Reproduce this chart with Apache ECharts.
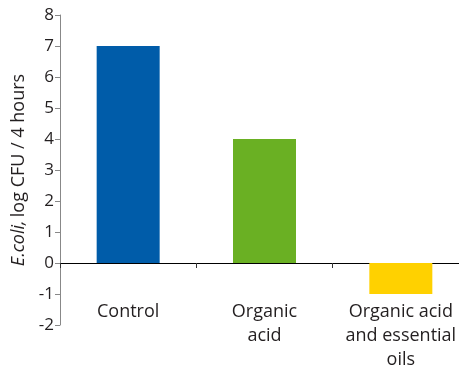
<!DOCTYPE html>
<html>
<head>
<meta charset="utf-8">
<script src="https://cdn.jsdelivr.net/npm/echarts@6/dist/echarts.min.js"></script>
<style>
  html, body { margin: 0; padding: 0; background: #fff; }
  #chart { width: 459px; height: 369px; }
</style>
</head>
<body>
<div id="chart"></div>
<script>
// Treatment groups and E. coli counts (log CFU / 4 hours)
const categories = ['Control', 'Organic\nacid', 'Organic acid\nand essential\noils'];
const values = [7, 4, -1];
const barColors = ['#005ca9', '#6ab023', '#ffd100'];
const yTicks = { min: -2, max: 8, interval: 1 };

const chart = echarts.init(document.getElementById('chart'), null, { renderer: 'canvas' });
const textColor = '#231f20';
const font = '"Open Sans", "Noto Sans", sans-serif';

chart.setOption({
  animation: false,
  grid: { left: 60, top: 15, bottom: 44, right: -10, containLabel: false, outerBoundsMode: 'none' },
  xAxis: {
    type: 'category',
    data: categories,
    axisLine: { onZero: true, lineStyle: { color: '#000', width: 1 } },
    axisTick: { show: true, length: 5, lineStyle: { color: '#333' } },
    axisLabel: {
      margin: -25,
      color: textColor,
      fontFamily: font,
      fontSize: 18,
      lineHeight: 24,
      interval: 0
    }
  },
  yAxis: {
    type: 'value',
    min: yTicks.min,
    max: yTicks.max,
    interval: yTicks.interval,
    splitLine: { show: false },
    axisLine: { show: true, lineStyle: { color: '#888', width: 1 } },
    axisTick: { show: true, length: 5, lineStyle: { color: '#888' } },
    axisLabel: { color: textColor, fontFamily: font, fontSize: 17, margin: 6 },
    name: '{i|E.coli,} {n|log CFU / 4 hours}',
    nameLocation: 'middle',
    nameRotate: 90,
    nameGap: 27,
    nameTextStyle: {
      rich: {
        i: { fontStyle: 'italic', fontFamily: font, fontSize: 18, color: textColor },
        n: { fontFamily: font, fontSize: 18, color: textColor }
      }
    }
  },
  series: [{
    type: 'bar',
    barWidth: 63,
    data: values.map((v, i) => ({ value: v, itemStyle: { color: barColors[i] } }))
  }]
});
</script>
</body>
</html>
